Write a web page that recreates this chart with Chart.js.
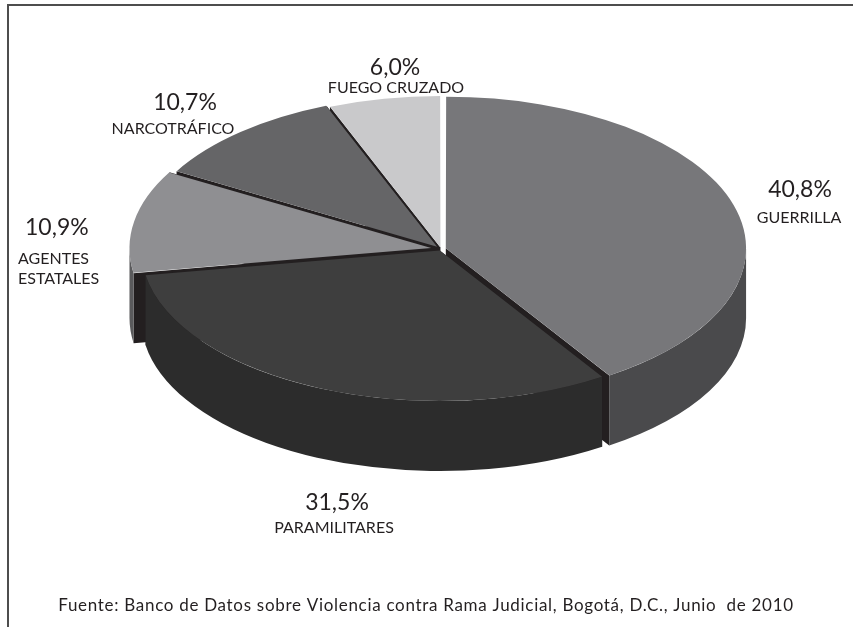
<!DOCTYPE html>
<html><head><meta charset="utf-8">
<script src="https://cdn.jsdelivr.net/npm/chart.js@4.4.1/dist/chart.umd.min.js"></script>
<style>html,body{margin:0;padding:0;background:#fff;}canvas{display:block;}</style>
</head><body>
<canvas id="c" width="853" height="627"></canvas>
<script>
// ---- data ----
const categories = ['GUERRILLA', 'PARAMILITARES', 'AGENTES ESTATALES', 'NARCOTRÁFICO', 'FUEGO CRUZADO'];
const values = [40.8, 31.5, 10.9, 10.7, 6.0];
const valueLabels = ['40,8%', '31,5%', '10,9%', '10,7%', '6,0%'];
const nameLines = [['GUERRILLA'], ['PARAMILITARES'], ['AGENTES', 'ESTATALES'], ['NARCOTRÁFICO'], ['FUEGO CRUZADO']];
const sourceNote = 'Fuente: Banco de Datos sobre Violencia contra Rama Judicial, Bogotá, D.C., Junio  de 2010';

// ---- styles ----
const topColors = ['#77777a', '#3e3e3e', '#8f8f92', '#656567', '#c9c9cb'];
const wallColors = ['#4a4a4c', '#2c2c2c', '#5a5a5c', '#3c3c3e', '#8c8c8e'];
const edgeColor = '#231f20';
const textColor = '#231f20';
const explode = [20, 12, 40, 24, 12];
const TILT = 0.505, DEPTH = 70;
const labelPos = [
  {pct: [800, 190, 'center'], name: [799, 218, 'center']},
  {pct: [337, 503, 'center'], name: [334, 528, 'center']},
  {pct: [25, 228, 'left'], name: [18, 259, 'left']},
  {pct: [185, 103, 'center'], name: [173, 129, 'center']},
  {pct: [395, 68, 'center'], name: [396, 88, 'center']}
];
const FONT = 'Lato, "Open Sans", sans-serif';

function sliceGeom(chart, el) {
  const p = el.getProps(['x', 'y', 'startAngle', 'endAngle', 'outerRadius'], true);
  const cy = (chart.chartArea.top + chart.chartArea.bottom) / 2;
  const off = (el.options.offset || 0) / 4;
  const circ = p.endAngle - p.startAngle;
  const mid = (p.startAngle + p.endAngle) / 2;
  const r = p.outerRadius + off * (1 - Math.sin(Math.min(Math.PI, circ)));
  const sx = p.x + Math.cos(mid) * off;
  const sy = cy + (p.y + Math.sin(mid) * off - cy) * TILT;
  return {sx, sy, rx: r, ry: r * TILT, s: p.startAngle, e: p.endAngle};
}

const pie3d = {
  id: 'pie3d',
  beforeDatasetsDraw(chart) {
    const ctx = chart.ctx;
    const meta = chart.getDatasetMeta(0);
    const geo = meta.data.map(el => sliceGeom(chart, el));
    ctx.save();
    // radial walls
    geo.forEach(g => {
      [g.s, g.e].forEach(a => {
        const px = g.sx + g.rx * Math.cos(a), py = g.sy + g.ry * Math.sin(a);
        ctx.beginPath();
        ctx.moveTo(g.sx, g.sy);
        ctx.lineTo(px, py);
        ctx.lineTo(px, py + DEPTH);
        ctx.lineTo(g.sx, g.sy + DEPTH);
        ctx.closePath();
        ctx.fillStyle = edgeColor;
        ctx.fill();
      });
    });
    // outer curved walls (front half only)
    geo.forEach((g, i) => {
      const a1 = Math.max(g.s, 0), a2 = Math.min(g.e, Math.PI);
      if (a2 <= a1) return;
      ctx.beginPath();
      ctx.ellipse(g.sx, g.sy, g.rx, g.ry, 0, a1, a2, false);
      ctx.lineTo(g.sx + g.rx * Math.cos(a2), g.sy + g.ry * Math.sin(a2) + DEPTH);
      ctx.ellipse(g.sx, g.sy + DEPTH, g.rx, g.ry, 0, a2, a1, true);
      ctx.closePath();
      ctx.fillStyle = wallColors[i];
      ctx.fill();
    });
    ctx.restore();
    // tilt the top faces
    const cy = (chart.chartArea.top + chart.chartArea.bottom) / 2;
    ctx.save();
    ctx.translate(0, cy);
    ctx.scale(1, TILT);
    ctx.translate(0, -cy);
  },
  afterDatasetsDraw(chart) {
    chart.ctx.restore();
  },
  afterDraw(chart) {
    const ctx = chart.ctx;
    ctx.save();
    // frame
    ctx.fillStyle = '#4d4d4d';
    ctx.fillRect(7, 4, 846, 2);
    ctx.fillRect(7, 4, 2, 623);
    ctx.fillStyle = textColor;
    ctx.textBaseline = 'middle';
    labelPos.forEach((lp, i) => {
      ctx.font = '23px ' + FONT;
      ctx.textAlign = lp.pct[2];
      ctx.fillText(valueLabels[i], lp.pct[0], lp.pct[1]);
      ctx.font = '16px ' + FONT;
      ctx.textAlign = lp.name[2];
      nameLines[i].forEach((line, j) => ctx.fillText(line, lp.name[0], lp.name[1] + j * 20));
    });
    ctx.font = '17px ' + FONT;
    ctx.letterSpacing = '0.7px';
    ctx.textAlign = 'center';
    ctx.fillText(sourceNote, 426, 606);
    ctx.restore();
  }
};

new Chart(document.getElementById('c'), {
  type: 'pie',
  data: {
    labels: categories,
    datasets: [{
      data: values,
      backgroundColor: topColors,
      borderWidth: 0,
      offset: explode,
      hoverOffset: 0,
      clip: false
    }]
  },
  options: {
    responsive: false,
    devicePixelRatio: 1,
    animation: false,
    events: [],
    radius: 298,
    layout: {padding: {left: 29, right: 0, top: 0, bottom: 129}},
    plugins: {legend: {display: false}, tooltip: {enabled: false}}
  },
  plugins: [pie3d]
});
</script>
</body></html>
